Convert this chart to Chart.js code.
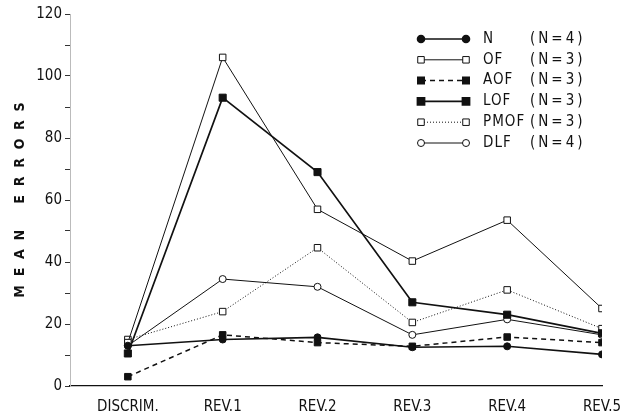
<!DOCTYPE html>
<html>
<head>
<meta charset="utf-8">
<script src="https://cdn.jsdelivr.net/npm/chart.js@4/dist/chart.umd.min.js"></script>
<style>
  html, body { margin: 0; padding: 0; background: #fff; }
  #wrap { width: 627px; height: 414px; position: relative; }
</style>
</head>
<body>
<div id="wrap"><canvas id="myChart"></canvas></div>
<script>
// --- data ---
const categories = ['DISCRIM.', 'REV.1', 'REV.2', 'REV.3', 'REV.4', 'REV.5'];
const seriesNames = ['N', 'OF', 'AOF', 'LOF', 'PMOF', 'DLF'];
const seriesCounts = ['(N=4)', '(N=3)', '(N=3)', '(N=3)', '(N=3)', '(N=4)'];

const nValues    = [13, 15, 15.7, 12.5, 12.8, 10.2];
const ofValues   = [14, 106, 57, 40.3, 53.5, 25];
const aofValues  = [3, 16.5, 14, 12.8, 15.8, 14];
const lofValues  = [10.5, 93, 69, 27, 23, 17];
const pmofValues = [15, 24, 44.6, 20.5, 31, 18.5];
const dlfValues  = [13, 34.5, 32, 16.5, 21.5, 16.5];

const yTicks = [0, 20, 40, 60, 80, 100, 120];

const ink = '#111';
const fontFamily = '"DejaVu Sans Condensed", "DejaVu Sans", sans-serif';
const toPoints = vals => vals.map((v, i) => ({ x: i, y: v }));

const series = [
  { values: nValues,    width: 1.6, dash: [],     style: 'circle', r: 3.5, fill: ink },
  { values: ofValues,   width: 1,   dash: [],     style: 'rect',   r: 4.6, fill: '#fff' },
  { values: aofValues,  width: 1.5, dash: [5, 4], style: 'rect',   r: 4.6, fill: ink },
  { values: lofValues,  width: 1.7, dash: [],     style: 'rect',   r: 5,   fill: ink },
  { values: pmofValues, width: 1,   dash: [1, 2], style: 'rect',   r: 4.6, fill: '#fff' },
  { values: dlfValues,  width: 1,   dash: [],     style: 'circle', r: 3.5, fill: '#fff' }
];

const datasets = series.map((s, i) => ({
  label: seriesNames[i],
  data: toPoints(s.values),
  borderColor: ink,
  borderWidth: s.width,
  borderDash: s.dash,
  pointStyle: s.style,
  pointRadius: s.r,
  pointBorderWidth: 1,
  pointBackgroundColor: s.fill,
  pointBorderColor: ink,
  fill: false,
  tension: 0
}));

// legend drawn as line + marker at both ends, like the original
const lineLegend = {
  id: 'lineLegend',
  afterDatasetsDraw(chart) {
    const ctx = chart.ctx;
    const x0 = 421, x1 = 466, top = 39, step = 20.8;
    ctx.save();
    ctx.font = '15px ' + fontFamily;
    ctx.textBaseline = 'middle';
    chart.data.datasets.forEach((ds, i) => {
      const y = top + i * step;
      ctx.strokeStyle = ink;
      ctx.lineWidth = ds.borderWidth;
      ctx.setLineDash(ds.borderDash);
      ctx.beginPath();
      ctx.moveTo(x0, y);
      ctx.lineTo(x1, y);
      ctx.stroke();
      ctx.setLineDash([]);
      const opts = {
        pointStyle: ds.pointStyle, radius: ds.pointRadius, rotation: 0,
        borderWidth: 1
      };
      ctx.fillStyle = ds.pointBackgroundColor;
      ctx.strokeStyle = ink;
      Chart.helpers.drawPoint(ctx, opts, x0, y);
      Chart.helpers.drawPoint(ctx, opts, x1, y);
      ctx.fillStyle = ink;
      ctx.textAlign = 'left';
      ctx.letterSpacing = '1px';
      ctx.fillText(ds.label, 483, y);
      ctx.letterSpacing = '3px';
      ctx.fillText(seriesCounts[i], 530, y);
      ctx.letterSpacing = '0px';
    });
    ctx.restore();
  }
};

const ctx = document.getElementById('myChart').getContext('2d');
new Chart(ctx, {
  type: 'line',
  data: { datasets: datasets },
  plugins: [lineLegend],
  options: {
    responsive: true,
    maintainAspectRatio: false,
    animation: false,
    layout: { padding: { top: 14, right: 25, bottom: 0, left: 0 } },
    plugins: { legend: { display: false }, tooltip: { enabled: false } },
    scales: {
      x: {
        type: 'linear',
        min: -0.61,
        max: 5,
        afterBuildTicks: axis => { axis.ticks = categories.map((c, i) => ({ value: i })); },
        afterFit: axis => { axis.height = 28; },
        ticks: {
          autoSkip: false,
          maxRotation: 0,
          padding: 4,
          color: ink,
          font: { family: fontFamily, size: 15 },
          callback: v => categories[v]
        },
        grid: { display: false },
        border: { display: true, color: ink, width: 1.2 }
      },
      y: {
        min: 0,
        max: 120,
        afterFit: axis => { axis.width = 70; },
        ticks: {
          stepSize: 10,
          autoSkip: false,
          padding: 3,
          color: ink,
          font: { family: fontFamily, size: 15 },
          callback: v => (yTicks.includes(v) ? String(v) : '')
        },
        grid: { drawOnChartArea: false, tickLength: 5, color: '#333', lineWidth: 1 },
        border: { display: true, color: '#bbb', dash: [1, 3], width: 1 },
        title: {
          display: true,
          text: 'M  E  A  N      E  R  R  O  R  S',
          color: ink,
          padding: { top: 12, bottom: 0 },
          font: { family: fontFamily, size: 14, weight: 'bold' }
        }
      }
    }
  }
});
</script>
</body>
</html>
